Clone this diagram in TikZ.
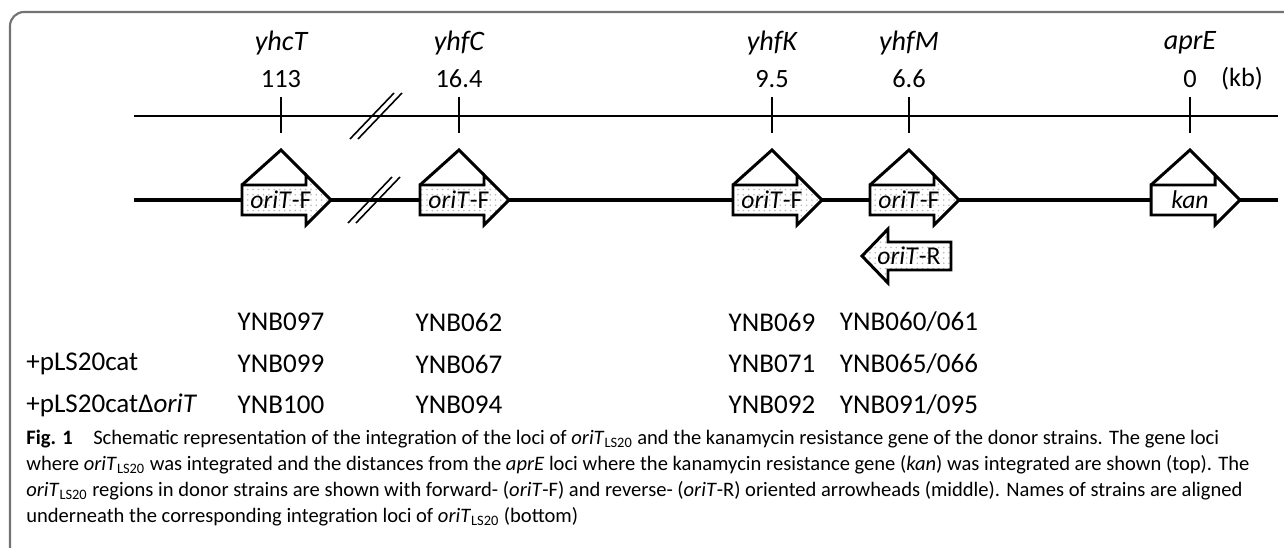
\documentclass[tikz,border=0pt]{standalone}
\usepackage{fontspec}
\setmainfont{Carlito}
\usetikzlibrary{patterns}
\begin{document}
\begin{tikzpicture}[
  x=0.2mm, y=-0.2mm,
  every node/.style={inner sep=0pt, font=\fontsize{15.4}{18}\selectfont},
  locus/.style={font=\fontsize{16}{18}\selectfont\itshape},
  dist/.style={font=\fontsize{15}{18}\selectfont},
  inlabel/.style={font=\fontsize{14.6}{17}\selectfont},
  capt/.style={anchor=north west, align=left, font=\fontsize{11.7}{14.8}\selectfont},
  gene/.style={draw, line width=1.7pt, line join=miter, preaction={fill=white}, pattern=dots, pattern color=gray!55},
  kanbox/.style={draw, line width=1.7pt, line join=miter, fill=white},
  hat/.style={line width=1.7pt},
  thin/.style={line width=0.85pt},
  brk/.style={line width=0.9pt}
]
\useasboundingbox (0,0) rectangle (1284,548);
\draw[black!55, line width=1.2pt, rounded corners=8] (10,548) -- (10,12) -- (1284,12);

\node[locus] (yhcT) at (281,43)  {yhcT};
\node[locus] (yhfC) at (459,43)  {yhfC};
\node[locus] (yhfK) at (772,43)  {yhfK};
\node[locus] (yhfM) at (909,43)  {yhfM};
\node[locus] (aprE) at (1190,43) {aprE};
\node[dist] (d113) at (281,79)  {113};
\node[dist] (d164) at (459,79)  {16.4};
\node[dist] (d95)  at (772,79)  {9.5};
\node[dist] (d66)  at (909,79)  {6.6};
\node[dist] (d0)   at (1190,79) {0};
\node[dist] (kb)   at (1242,79) {(kb)};

\coordinate (mapL) at (134,116);
\coordinate (mapR) at (1278,116);
\draw[thin] (mapL) -- (mapR);
\foreach \t in {281,459,772,909,1190}
  \draw[thin] (\t,97) -- (\t,133);
\draw[brk] (350,139) -- (394,93);
\draw[brk] (358,139) -- (402,93);

\coordinate (chrL) at (134,200);
\coordinate (chrR) at (1278,200);
\draw[line width=2.3pt] (chrL) -- (chrR);
\draw[brk] (348,223) -- (392,177);
\draw[brk] (356,223) -- (400,177);

\foreach \t/\n in {281/1,459/2,772/3,909/4}{
  \draw[gene] (\t-39,185) -- (\t+25,185) -- (\t+25,175) -- (\t+50,200)
    -- (\t+25,225) -- (\t+25,215) -- (\t-39,215) -- cycle;
  \draw[hat] (\t-39,185) -- (\t,150) -- (\t+25,175);
  \node[inlabel] (oriF\n) at (\t,200) {\textit{oriT}-F};
}
\draw[kanbox] (1151,185) -- (1215,185) -- (1215,175) -- (1240,200)
  -- (1215,225) -- (1215,215) -- (1151,215) -- cycle;
\draw[hat] (1151,185) -- (1190,150) -- (1215,175);
\node[inlabel] (kan) at (1190,200) {\textit{kan}};

\draw[gene] (951,242) -- (888,242) -- (888,229) -- (862,256)
  -- (888,283) -- (888,270) -- (951,270) -- cycle;
\node[inlabel] (oriR) at (909,256) {\textit{oriT}-R};

\node (s097) at (281,322) {YNB097};
\node (s062) at (459,322) {YNB062};
\node (s069) at (772,322) {YNB069};
\node (s060) at (909,322) {YNB060/061};
\node[anchor=west] (cat) at (26,364) {+pLS20cat};
\node (s099) at (281,364) {YNB099};
\node (s067) at (459,364) {YNB067};
\node (s071) at (772,364) {YNB071};
\node (s065) at (909,364) {YNB065/066};
\node[anchor=west] (catdel) at (26,405) {+pLS20catΔ\textit{oriT}};
\node (s100) at (281,405) {YNB100};
\node (s094) at (459,405) {YNB094};
\node (s092) at (772,405) {YNB092};
\node (s091) at (909,405) {YNB091/095};

\node[capt] (cap) at (26,430)
  {\textbf{Fig. 1}\quad Schematic representation of the integration of the loci of \textit{oriT}\textsubscript{LS20} and the kanamycin resistance gene of the donor strains. The gene loci\\
   where \textit{oriT}\textsubscript{LS20} was integrated and the distances from the \textit{aprE} loci where the kanamycin resistance gene (\textit{kan}) was integrated are shown (top). The\\
   \textit{oriT}\textsubscript{LS20} regions in donor strains are shown with forward- (\textit{oriT}-F) and reverse- (\textit{oriT}-R) oriented arrowheads (middle). Names of strains are aligned\\
   underneath the corresponding integration loci of \textit{oriT}\textsubscript{LS20} (bottom)};
\end{tikzpicture}
\end{document}
